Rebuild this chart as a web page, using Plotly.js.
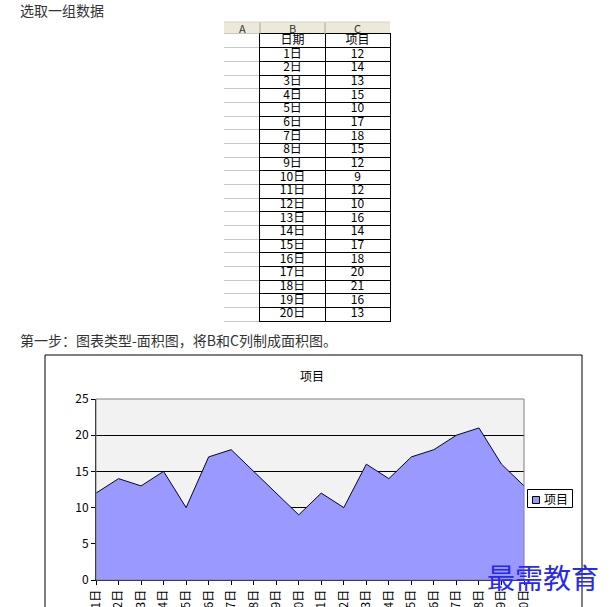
<!DOCTYPE html>
<html>
<head>
<meta charset="utf-8">
<script src="https://cdn.plot.ly/plotly-3.0.1.min.js"></script>
<style>html,body{margin:0;padding:0;background:#fff;}#chart{width:610px;height:607px;}</style>
</head>
<body>
<div id="chart"></div>
<script>
// ---- data ----
const days = ['1日','2日','3日','4日','5日','6日','7日','8日','9日','10日','11日','12日','13日','14日','15日','16日','17日','18日','19日','20日'];
const values = [12,14,13,15,10,17,18,15,12,9,12,10,16,14,17,18,20,21,16,13];
const seriesName = '项目';
const dateHeader = '日期';
const columnLetters = ['A','B','C'];
const yTicks = [0,5,10,15,20,25];
const introText = '选取一组数据';
const stepText = '第一步：图表类型-面积图，将B和C列制成面积图。';
const watermark = '最需教育';

// ---- helpers for pixel -> paper ----
const W = 610, H = 607;
const px = x => x / W;
const py = y => 1 - y / H;
const FONT = '"Noto Sans CJK SC", "Noto Sans", sans-serif';

// spreadsheet rows: first row holds the column headings, then one row per day
const rowKeys = [dateHeader].concat(days);
const colAText = rowKeys.map(() => '');
const colBText = [dateHeader].concat(days);
const colCText = [seriesName].concat(values.map(String));

// table geometry (pixels)
const T = {left: 224, aRight: 260, bRight: 325, right: 390, headTop: 22, top: 34, bottom: 321};

const traces = [
  // column A (empty cells, gray grid)
  {type: 'scatter', mode: 'text', x: rowKeys.map(() => columnLetters[0]), y: rowKeys, text: colAText,
   xaxis: 'x2', yaxis: 'y2', showlegend: false, hoverinfo: 'skip'},
  // column B
  {type: 'scatter', mode: 'text', x: rowKeys.map(() => columnLetters[1]), y: rowKeys, text: colBText,
   textposition: 'middle center', textfont: {family: FONT, size: 12, color: '#000'},
   xaxis: 'x3', yaxis: 'y3', showlegend: false, hoverinfo: 'skip'},
  // column C
  {type: 'scatter', mode: 'text', x: rowKeys.map(() => columnLetters[2]), y: rowKeys, text: colCText,
   textposition: 'middle center', textfont: {family: FONT, size: 12, color: '#000'},
   xaxis: 'x3', yaxis: 'y3', showlegend: false, hoverinfo: 'skip'},
  // area chart
  {type: 'scatter', mode: 'lines', x: days, y: values, name: seriesName,
   fill: 'tozeroy', fillcolor: '#9999ff', line: {color: '#000050', width: 1},
   xaxis: 'x', yaxis: 'y', showlegend: false}
];

const tableY = (col, line) => ({
  domain: [py(T.bottom), py(T.top)], anchor: col,
  type: 'category', categoryarray: rowKeys, categoryorder: 'array',
  range: [rowKeys.length - 0.5, -0.5],
  tickmode: 'linear', tick0: 0, dtick: 1,
  tickson: 'boundaries', showgrid: true, gridcolor: line, gridwidth: 1,
  showticklabels: false, ticks: '', zeroline: false, fixedrange: true
});

const layout = {
  width: W, height: H,
  margin: {l: 0, r: 0, t: 0, b: 0},
  paper_bgcolor: '#ffffff',
  plot_bgcolor: 'rgba(0,0,0,0)',
  font: {family: FONT, size: 12, color: '#000'},
  showlegend: false,
  title: {text: seriesName, x: px(312), xanchor: 'center', y: py(377), yanchor: 'middle', font: {family: FONT, size: 12, color: '#000'}},
  xaxis: {
    type: 'category',
    domain: [px(96), px(524)],
    range: [0, days.length - 1],
    showline: true, linecolor: '#000', linewidth: 1,
    ticks: 'outside', ticklen: 4, tickcolor: '#000',
    tickangle: -90,
    showgrid: false, zeroline: false,
    tickfont: {family: FONT, size: 12, color: '#000'}
  },
  yaxis: {
    domain: [py(580), py(399)],
    range: [0, 25],
    tickvals: yTicks,
    showline: true, linecolor: '#000', linewidth: 1,
    ticks: 'outside', ticklen: 4, tickcolor: '#000',
    showgrid: true, gridcolor: '#000', gridwidth: 1,
    zeroline: false,
    tickfont: {family: FONT, size: 12, color: '#000'}
  },
  // column A axes
  xaxis2: {domain: [px(T.left), px(T.aRight)], anchor: 'y2', type: 'category', categoryarray: [columnLetters[0]],
           range: [-0.5, 0.5], showgrid: false, showticklabels: false, ticks: '', zeroline: false,
           showline: true, mirror: true, linecolor: '#c8c8c8', linewidth: 1, fixedrange: true},
  yaxis2: tableY('x2', '#c8c8c8'),
  // columns B-C axes
  xaxis3: {domain: [px(T.aRight), px(T.right)], anchor: 'y3', type: 'category', categoryarray: columnLetters.slice(1), categoryorder: 'array',
           range: [-0.5, 1.5], tickmode: 'linear', tick0: 0, dtick: 1, tickson: 'boundaries', showgrid: true, gridcolor: '#000', gridwidth: 1,
           showticklabels: false, ticks: '', zeroline: false,
           showline: true, mirror: true, linecolor: '#000', linewidth: 1, fixedrange: true},
  yaxis3: Object.assign(tableY('x3', '#000'), {showline: true, mirror: true, linecolor: '#000', linewidth: 1}),
  shapes: [
    // plot area background
    {type: 'rect', xref: 'x domain', yref: 'y domain', x0: 0, x1: 1, y0: 0, y1: 1, fillcolor: '#f2f2f2', line: {width: 0}, layer: 'below'},
    // plot area border (top/right gray)
    {type: 'rect', xref: 'x domain', yref: 'y domain', x0: 0, x1: 1, y0: 0, y1: 1, line: {color: '#808080', width: 1}, layer: 'above'},
    // chart outer frame
    {type: 'rect', xref: 'paper', yref: 'paper', x0: px(45), x1: px(582), y0: py(612), y1: py(355), line: {color: '#000', width: 1}, layer: 'below'},
    // spreadsheet column header strip
    {type: 'rect', xref: 'paper', yref: 'paper', x0: px(T.left), x1: px(T.right), y0: py(T.top), y1: py(T.headTop), fillcolor: '#ece9d8', line: {width: 0}, layer: 'below'},
    {type: 'line', xref: 'paper', yref: 'paper', x0: px(T.aRight), x1: px(T.aRight), y0: py(T.top), y1: py(T.headTop), line: {color: '#aca899', width: 1}},
    {type: 'line', xref: 'paper', yref: 'paper', x0: px(T.bRight), x1: px(T.bRight), y0: py(T.top), y1: py(T.headTop), line: {color: '#aca899', width: 1}},
    {type: 'line', xref: 'paper', yref: 'paper', x0: px(T.left), x1: px(T.right), y0: py(T.headTop), y1: py(T.headTop), line: {color: '#d8d4c4', width: 1}},
    // legend box and key
    {type: 'rect', xref: 'paper', yref: 'paper', x0: px(527.5), x1: px(572.5), y0: py(507.5), y1: py(489.5), fillcolor: '#ffffff', line: {color: '#000', width: 1}},
    {type: 'rect', xref: 'paper', yref: 'paper', x0: px(532.5), x1: px(539.5), y0: py(503.5), y1: py(496.5), fillcolor: '#9999ff', line: {color: '#000', width: 1}}
  ],
  annotations: [
    {text: introText, xref: 'paper', yref: 'paper', x: px(18), y: py(10), xanchor: 'left', yanchor: 'middle', showarrow: false, font: {family: FONT, size: 14, color: '#333'}},
    {text: stepText, xref: 'paper', yref: 'paper', x: px(18), y: py(340), xanchor: 'left', yanchor: 'middle', showarrow: false, font: {family: FONT, size: 14, color: '#333'}},
    {text: columnLetters[0], xref: 'paper', yref: 'paper', x: px((T.left + T.aRight) / 2), y: py((T.headTop + T.top) / 2), xanchor: 'center', yanchor: 'middle', showarrow: false, font: {family: FONT, size: 11, color: '#333'}},
    {text: columnLetters[1], xref: 'paper', yref: 'paper', x: px((T.aRight + T.bRight) / 2), y: py((T.headTop + T.top) / 2), xanchor: 'center', yanchor: 'middle', showarrow: false, font: {family: FONT, size: 11, color: '#333'}},
    {text: columnLetters[2], xref: 'paper', yref: 'paper', x: px((T.bRight + T.right) / 2), y: py((T.headTop + T.top) / 2), xanchor: 'center', yanchor: 'middle', showarrow: false, font: {family: FONT, size: 11, color: '#333'}},
    {text: seriesName, xref: 'paper', yref: 'paper', x: px(541.5), y: py(498.5), xanchor: 'left', yanchor: 'middle', showarrow: false, font: {family: FONT, size: 12, color: '#000'}},
    {text: watermark, xref: 'paper', yref: 'paper', x: px(543), y: py(577), xanchor: 'center', yanchor: 'middle', showarrow: false, font: {family: FONT, size: 28, color: '#2828f0'}}
  ]
};

Plotly.newPlot('chart', traces, layout, {displayModeBar: false, staticPlot: true});
</script>
</body>
</html>
